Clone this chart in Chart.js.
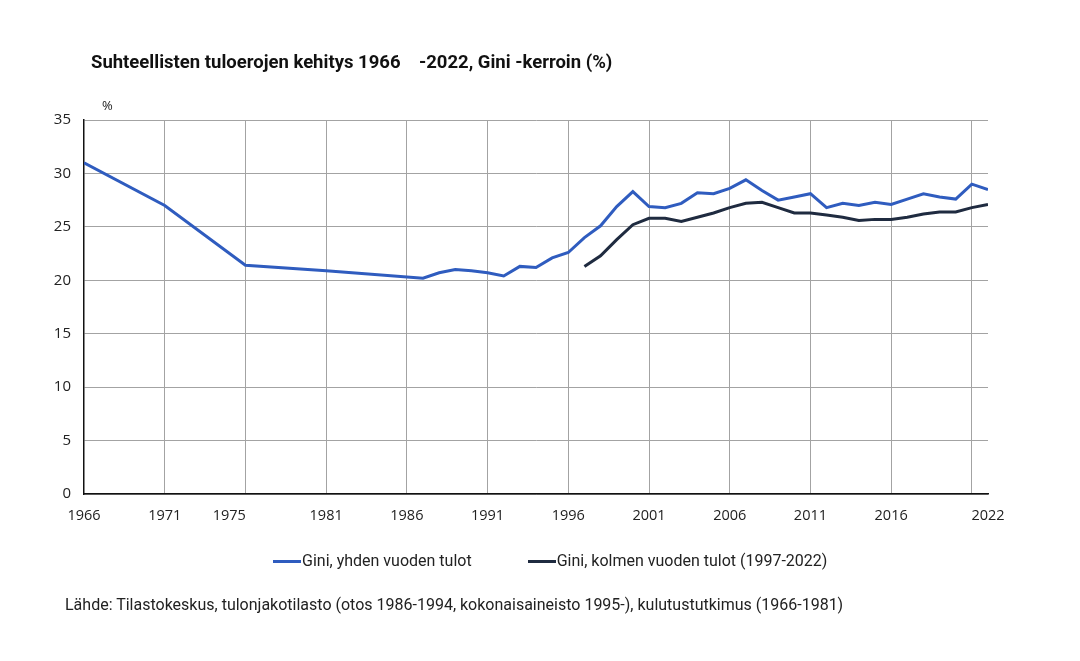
<!DOCTYPE html>
<html>
<head>
<meta charset="utf-8">
<script src="https://cdn.jsdelivr.net/npm/chart.js@4.4.1/dist/chart.umd.min.js"></script>
<style>
  body { margin: 0; background: #fff; }
  #wrap { position: relative; width: 1080px; height: 661px; }
  #wrap canvas { position: absolute; left: 0; top: 0; }
  .txt { position: absolute; font-family: Roboto, sans-serif; white-space: pre; color: #222; }
  #title { left: 91px; top: 51px; font-size: 18.5px; font-weight: bold; line-height: 22px; color: #111; }
  #unit { left: 102px; top: 96px; font-family: 'Open Sans', sans-serif; font-size: 13px; line-height: 18px; }
  #legend { left: 273px; top: 551px; display: flex; font-size: 16px; line-height: 20px; }
  #legend .item { display: flex; align-items: center; }
  #legend .item + .item { margin-left: 56px; }
  #legend .mark { width: 28px; height: 3px; margin-right: 1px; }
  #source { left: 65px; top: 595px; font-size: 16px; line-height: 20px; }
</style>
</head>
<body>
<div id="wrap">
  <canvas id="giniChart" width="1080" height="661"></canvas>
  <div class="txt" id="title">Suhteellisten tuloerojen kehitys 1966    -2022, Gini -kerroin (%)</div>
  <div class="txt" id="unit">%</div>
  <div class="txt" id="legend"></div>
  <div class="txt" id="source">Lähde: Tilastokeskus, tulonjakotilasto (otos 1986-1994, kokonaisaineisto 1995-), kulutustutkimus (1966-1981)</div>
</div>
<script>
// yhden vuoden tulot
const years1 = [1966, 1971, 1976, 1981, 1987, 1988, 1989, 1990, 1991, 1992, 1993, 1994, 1995, 1996,
    1997, 1998, 1999, 2000, 2001, 2002, 2003, 2004, 2005, 2006, 2007, 2008, 2009, 2010,
    2011, 2012, 2013, 2014, 2015, 2016, 2017, 2018, 2019, 2020, 2021, 2022];
const gini1 = [31.0, 27.0, 21.4, 20.9, 20.2, 20.7, 21.0, 20.9, 20.7, 20.4, 21.3, 21.2, 22.1, 22.6,
    24.0, 25.1, 26.9, 28.3, 26.9, 26.8, 27.2, 28.2, 28.1, 28.6, 29.4, 28.4, 27.5, 27.8,
    28.1, 26.8, 27.2, 27.0, 27.3, 27.1, 27.6, 28.1, 27.8, 27.6, 29.0, 28.5];

// kolmen vuoden tulot
const years3 = [1997, 1998, 1999, 2000, 2001, 2002, 2003, 2004, 2005, 2006, 2007, 2008, 2009,
    2010, 2011, 2012, 2013, 2014, 2015, 2016, 2017, 2018, 2019, 2020, 2021, 2022];
const gini3 = [21.3, 22.3, 23.8, 25.2, 25.8, 25.8, 25.5, 25.9, 26.3, 26.8, 27.2, 27.3, 26.8,
    26.3, 26.3, 26.1, 25.9, 25.6, 25.7, 25.7, 25.9, 26.2, 26.4, 26.4, 26.8, 27.1];

const labelYears = [1966, 1971, 1975, 1981, 1986, 1991, 1996, 2001, 2006, 2011, 2016, 2022];
const gridYears = [1971, 1976, 1981, 1986, 1991, 1996, 2001, 2006, 2011, 2016, 2021];
const yTicks = [0, 5, 10, 15, 20, 25, 30, 35];

const seriesNames = ['Gini, yhden vuoden tulot', 'Gini, kolmen vuoden tulot (1997-2022)'];
const colors = ['#2f5cbf', '#1f2b40'];

const tickYears = [...new Set([...labelYears, ...gridYears])].sort((a, b) => a - b);
const toPoints = (xs, ys) => xs.map((x, i) => ({ x: x, y: ys[i] }));

const ctx = document.getElementById('giniChart').getContext('2d');

new Chart(ctx, {
    type: 'line',
    data: {
        datasets: [{
            label: seriesNames[0],
            data: toPoints(years1, gini1),
            borderColor: colors[0],
            borderWidth: 3,
            pointRadius: 0,
            tension: 0
        }, {
            label: seriesNames[1],
            data: toPoints(years3, gini3),
            borderColor: colors[1],
            borderWidth: 3,
            pointRadius: 0,
            tension: 0
        }]
    },
    options: {
        responsive: false,
        animation: false,
        layout: {
            padding: { left: 0, top: 120, right: 92, bottom: 0 }
        },
        plugins: {
            legend: { display: false },
            tooltip: { enabled: false }
        },
        scales: {
            x: {
                type: 'linear',
                min: 1966,
                max: 2022,
                afterBuildTicks: (scale) => {
                    scale.ticks = tickYears.map(v => ({ value: v }));
                },
                afterFit: (scale) => { scale.height = 167; },
                ticks: {
                    autoSkip: false,
                    maxRotation: 0,
                    padding: 13,
                    color: '#222',
                    font: { family: 'Open Sans', size: 14.5 },
                    callback: (v) => labelYears.includes(v) ? String(v) : ''
                },
                grid: {
                    drawTicks: false,
                    color: (c) => c.tick && gridYears.includes(c.tick.value) ? '#a3a3a3' : 'rgba(0,0,0,0)'
                },
                border: { color: '#111', width: 1.5 }
            },
            y: {
                min: 0,
                max: 35,
                afterBuildTicks: (scale) => {
                    scale.ticks = yTicks.map(v => ({ value: v }));
                },
                afterFit: (scale) => { scale.width = 84; },
                ticks: {
                    padding: 13,
                    color: '#222',
                    font: { family: 'Open Sans', size: 15 }
                },
                grid: {
                    drawTicks: false,
                    color: '#a3a3a3'
                },
                border: { color: '#111', width: 1.5 }
            }
        }
    }
});

// legend
const legend = document.getElementById('legend');
seriesNames.forEach((name, i) => {
    const item = document.createElement('div');
    item.className = 'item';
    const mark = document.createElement('span');
    mark.className = 'mark';
    mark.style.background = colors[i];
    const label = document.createElement('span');
    label.textContent = name;
    item.appendChild(mark);
    item.appendChild(label);
    legend.appendChild(item);
});
</script>
</body>
</html>
